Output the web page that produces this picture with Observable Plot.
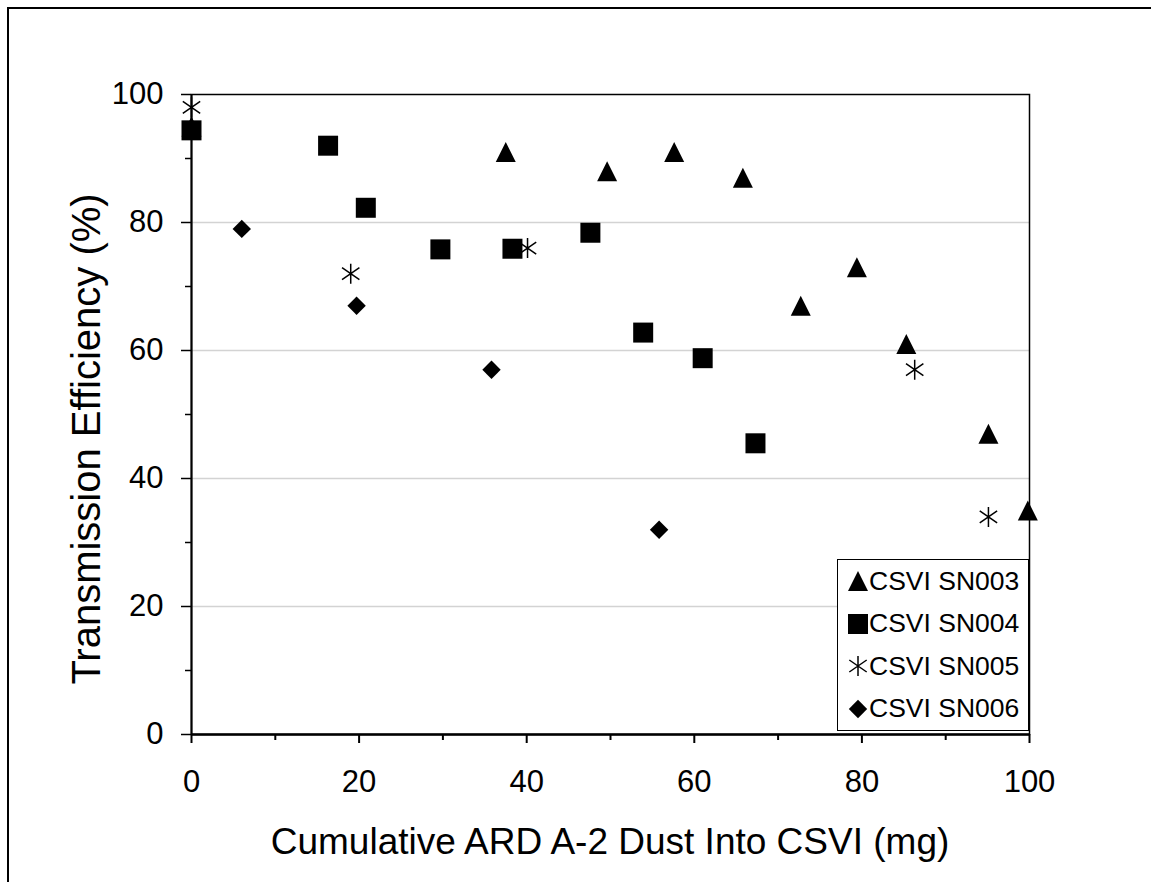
<!DOCTYPE html>
<html>
<head>
<meta charset="utf-8">
<script src="https://cdn.jsdelivr.net/npm/d3@7"></script>
<script src="https://cdn.jsdelivr.net/npm/@observablehq/plot@0.6"></script>
<style>
  html, body { margin: 0; padding: 0; background: white; }
  #wrap { position: relative; width: 1151px; height: 882px; overflow: hidden; font-family: "Liberation Sans", Arial, sans-serif; }
  #outer { position: absolute; left: 7px; top: 7px; width: 1300px; height: 1000px; border-left: 2px solid black; border-top: 2px solid black; }
  #chart { position: absolute; left: 0; top: 0; }
  .xtitle { position: absolute; left: 191px; width: 838px; top: 823px; text-align: center; font-size: 37px; line-height: 37px; white-space: nowrap; }
  .ytitle { position: absolute; left: 86px; top: 439px; font-size: 40px; line-height: 40px; white-space: nowrap; transform: translate(-50%, -50%) rotate(-90deg); }
  #legend { position: absolute; left: 837px; top: 559px; width: 190px; height: 170px; border: 1.5px solid black; background: white; }
  #legend .row { display: flex; align-items: center; height: 42.5px; font-size: 26.5px; }
  #legend svg { margin-left: 9px; margin-right: 0px; }
</style>
</head>
<body>
<div id="wrap">
  <div id="outer"></div>
  <div id="chart"></div>
  <div class="xtitle">Cumulative ARD A-2 Dust Into CSVI (mg)</div>
  <div class="ytitle">Transmission Efficiency (%)</div>
  <div id="legend"></div>
</div>
<script>
// ---- data ----
const seriesNames = ["CSVI SN003", "CSVI SN004", "CSVI SN005", "CSVI SN006"];

const sn003X = [0, 37.5, 49.6, 57.6, 65.8, 72.7, 79.4, 85.3, 95.1, 99.8];
const sn003Y = [95, 91, 88, 91, 87, 67, 73, 61, 47, 35];

const sn004X = [0, 16.3, 20.8, 29.7, 38.3, 47.6, 53.9, 61.0, 67.3];
const sn004Y = [94.4, 92, 82.3, 75.8, 75.9, 78.4, 62.8, 58.8, 45.5];

const sn005X = [0, 19.0, 40.1, 86.3, 95.1];
const sn005Y = [98, 72, 76, 57, 34];

const sn006X = [6.0, 19.7, 35.8, 55.8];
const sn006Y = [79, 67, 57, 32];

const majorTicks = [0, 20, 40, 60, 80, 100];
const minorTicks = [10, 30, 50, 70, 90];
const gridLines = [20, 40, 60, 80];

const toRows = (xs, ys, s) => xs.map((x, i) => ({series: s, x, y: ys[i]}));
const d003 = toRows(sn003X, sn003Y, seriesNames[0]);
const d004 = toRows(sn004X, sn004Y, seriesNames[1]);
const d005 = toRows(sn005X, sn005Y, seriesNames[2]);
const d006 = toRows(sn006X, sn006Y, seriesNames[3]);

// ---- custom symbols (r = sqrt(size/PI)) ----
const rad = size => Math.sqrt(size / Math.PI);
const triSym = {draw(c, size) { const r = rad(size); c.moveTo(0, -r); c.lineTo(r, r); c.lineTo(-r, r); c.closePath(); }};
const sqSym = {draw(c, size) { const r = rad(size); c.rect(-r, -r, 2 * r, 2 * r); }};
const diaSym = {draw(c, size) { const r = rad(size) * 0.92; c.moveTo(0, -r); c.lineTo(r, 0); c.lineTo(0, r); c.lineTo(-r, 0); c.closePath(); }};
const astSym = {draw(c, size) { const r = rad(size); const a = r * 0.87, b = r * 0.6;
  c.moveTo(0, -r); c.lineTo(0, r);
  c.moveTo(-a, -b); c.lineTo(a, b);
  c.moveTo(-a, b); c.lineTo(a, -b); }};

const chart = Plot.plot({
  width: 1151,
  height: 882,
  marginLeft: 191,
  marginRight: 122,
  marginTop: 94,
  marginBottom: 148,
  x: {domain: [0, 100]},
  y: {domain: [0, 100]},
  style: {fontFamily: "'Liberation Sans', Arial, sans-serif", background: "transparent", color: "black"},
  marks: [
    Plot.gridY(gridLines, {stroke: "#d3d3d3", strokeOpacity: 1, strokeWidth: 1.5}),
    Plot.frame({stroke: "black", strokeWidth: 1.5}),
    Plot.axisY(majorTicks, {tickSize: 10, tickPadding: 18, fontSize: 31, strokeWidth: 1.5, label: null}),
    Plot.axisY(minorTicks, {tickSize: 6, tickFormat: () => "", strokeWidth: 1.5, label: null}),
    Plot.axisX(majorTicks, {tickSize: 9, tickPadding: 26, fontSize: 31, strokeWidth: 2, label: null}),
    Plot.axisX(minorTicks, {tickSize: 6, tickFormat: () => "", strokeWidth: 2, label: null}),
    Plot.ruleY([0], {stroke: "black", strokeWidth: 2.5}),
    Plot.ruleX([0], {stroke: "black", strokeWidth: 2}),
    Plot.dot(d006, {x: "x", y: "y", r: 10, symbol: () => diaSym, fill: "black", stroke: "none"}),
    Plot.dot(d003, {x: "x", y: "y", r: 10, symbol: () => triSym, fill: "black", stroke: "none"}),
    Plot.dot(d004, {x: "x", y: "y", r: 10, symbol: () => sqSym, fill: "black", stroke: "none"}),
    Plot.dot(d005, {x: "x", y: "y", r: 10, symbol: () => astSym, fill: "none", stroke: "black", strokeWidth: 1.5})
  ]
});
document.getElementById("chart").appendChild(chart);

// ---- legend ----
const legendSyms = [
  {sym: triSym, fill: "black", stroke: "none"},
  {sym: sqSym, fill: "black", stroke: "none"},
  {sym: astSym, fill: "none", stroke: "black"},
  {sym: diaSym, fill: "black", stroke: "none"}
];
const legend = d3.select("#legend");
seriesNames.forEach((name, i) => {
  const row = legend.append("div").attr("class", "row");
  const svg = row.append("svg").attr("width", 22).attr("height", 22);
  svg.append("path")
    .attr("transform", "translate(11,11)")
    .attr("d", d3.symbol(legendSyms[i].sym, 100 * Math.PI)())
    .attr("fill", legendSyms[i].fill)
    .attr("stroke", legendSyms[i].stroke)
    .attr("stroke-width", 1.5);
  row.append("span").text(name);
});
</script>
</body>
</html>
